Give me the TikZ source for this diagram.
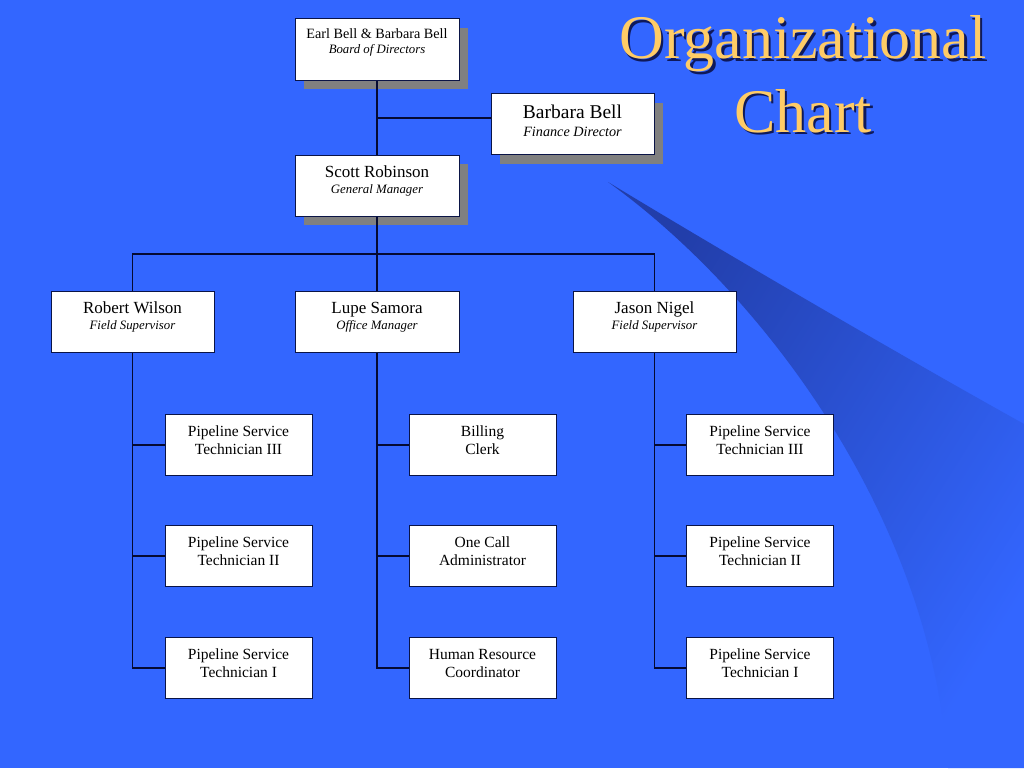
\documentclass[tikz,border=0pt]{standalone}
\usepackage{fontspec}
\setmainfont{Liberation Serif}
\usetikzlibrary{shadows}
\definecolor{bg}{RGB}{51,102,255}
\definecolor{swdark}{RGB}{34,62,170}
\definecolor{boxline}{RGB}{10,20,70}
\definecolor{connline}{RGB}{5,10,50}
\definecolor{shadowgray}{RGB}{128,128,128}
\definecolor{gold}{RGB}{255,204,102}
\definecolor{titleshadow}{RGB}{15,25,90}
\tikzset{
  orgbox/.style={draw=boxline, fill=white, line width=1pt, inner sep=0pt,
    minimum width=#1, minimum height=61pt},
  shadowed/.style={drop shadow={shadow xshift=9pt, shadow yshift=-9pt,
    fill=shadowgray, opacity=1}},
  conn/.style={draw=connline, line width=1.1pt},
  nametext/.style={anchor=base, inner sep=0pt, font=\fontsize{17}{20}\selectfont},
  roletext/.style={anchor=base, inner sep=0pt, font=\fontsize{12.8}{15}\selectfont\itshape},
  childtext/.style={anchor=base, inner sep=0pt, font=\fontsize{15.5}{18}\selectfont},
  titletext/.style={anchor=base, inner sep=0pt, font=\fontsize{62}{70}\selectfont}
}
\begin{document}
\begin{tikzpicture}[x=1pt,y=-1pt]
\fill[bg] (0,0) rectangle (1024,768);
\useasboundingbox (0,0) rectangle (1024,768);

% swoosh
\shade[top color=swdark, middle color=swdark!55!bg, bottom color=bg, shading angle=58]
  (608,182) .. controls (765,295) and (932,520) .. (948,768)
  -- (1024,768) -- (1024,424)
  .. controls (900,355) and (720,250) .. (608,182) -- cycle;

% title
\node[titletext, text=titleshadow] (tsh1) at (805.5,61.5) {Organizational};
\node[titletext, text=titleshadow] (tsh2) at (805.5,134.5) {Chart};
\node[titletext, text=gold] (t1) at (803,59) {Organizational};
\node[titletext, text=gold] (t2) at (803,132) {Chart};

% boxes
\node[orgbox=164pt, shadowed] (earl) at (377,49.5) {};
\node[orgbox=163pt, shadowed] (barb) at (572.5,124) {};
\node[orgbox=164pt, shadowed] (scott) at (377,185.5) {};
\node[orgbox=163pt] (robert) at (132.5,322) {};
\node[orgbox=164pt] (lupe) at (377,322) {};
\node[orgbox=163pt] (jason) at (654.5,322) {};

\node[orgbox=147pt] (l3) at (238.5,445) {};
\node[orgbox=147pt] (l2) at (238.5,556) {};
\node[orgbox=147pt] (l1) at (238.5,668) {};
\node[orgbox=147pt] (billing) at (482.5,445) {};
\node[orgbox=147pt] (onecall) at (482.5,556) {};
\node[orgbox=147pt] (hr) at (482.5,668) {};
\node[orgbox=147pt] (r3) at (760,445) {};
\node[orgbox=147pt] (r2) at (760,556) {};
\node[orgbox=147pt] (r1) at (760,668) {};

% texts
\node[anchor=base, inner sep=0pt, font=\fontsize{14.2}{16}\selectfont] (earlA) at (377,38) {Earl Bell \& Barbara Bell};
\node[roletext] (earlB) at (377,53) {Board of Directors};
\node[anchor=base, inner sep=0pt, font=\fontsize{19.5}{22}\selectfont] (barbA) at (572.5,118) {Barbara Bell};
\node[anchor=base, inner sep=0pt, font=\fontsize{14.2}{16}\selectfont\itshape] (barbB) at (572.5,136) {Finance Director};
\node[nametext] (scottA) at (377,177) {Scott Robinson};
\node[roletext] (scottB) at (377,193) {General Manager};
\node[nametext] (robA) at (132.5,313) {Robert Wilson};
\node[roletext] (robB) at (132.5,329) {Field Supervisor};
\node[nametext] (lupeA) at (377,313) {Lupe Samora};
\node[roletext] (lupeB) at (377,329) {Office Manager};
\node[nametext] (jasA) at (654.5,313) {Jason Nigel};
\node[roletext] (jasB) at (654.5,329) {Field Supervisor};

\node[childtext] (l3a) at (238.5,436) {Pipeline Service};
\node[childtext] (l3b) at (238.5,454) {Technician III};
\node[childtext] (l2a) at (238.5,547) {Pipeline Service};
\node[childtext] (l2b) at (238.5,565) {Technician II};
\node[childtext] (l1a) at (238.5,659) {Pipeline Service};
\node[childtext] (l1b) at (238.5,677) {Technician I};

\node[childtext] (bia) at (482.5,436) {Billing};
\node[childtext] (bib) at (482.5,454) {Clerk};
\node[childtext] (oca) at (482.5,547) {One Call};
\node[childtext] (ocb) at (482.5,565) {Administrator};
\node[childtext] (hra) at (482.5,659) {Human Resource};
\node[childtext] (hrb) at (482.5,677) {Coordinator};

\node[childtext] (r3a) at (760,436) {Pipeline Service};
\node[childtext] (r3b) at (760,454) {Technician III};
\node[childtext] (r2a) at (760,547) {Pipeline Service};
\node[childtext] (r2b) at (760,565) {Technician II};
\node[childtext] (r1a) at (760,659) {Pipeline Service};
\node[childtext] (r1b) at (760,677) {Technician I};

% connectors
\coordinate (bus) at (377,254);
\coordinate (fin) at ([yshift=6pt]barb.west);
\draw[conn] (earl.south) -- (scott.north);
\draw[conn] (earl.south |- fin) -- (fin);
\draw[conn] (scott.south) -- (lupe.north);
\draw[conn] (robert.north) |- (bus) -| (jason.north);

\draw[conn] (robert.south) |- (l3.west);
\draw[conn] (robert.south) |- (l2.west);
\draw[conn] (robert.south) |- (l1.west);
\draw[conn] (lupe.south) |- (billing.west);
\draw[conn] (lupe.south) |- (onecall.west);
\draw[conn] (lupe.south) |- (hr.west);
\draw[conn] (jason.south) |- (r3.west);
\draw[conn] (jason.south) |- (r2.west);
\draw[conn] (jason.south) |- (r1.west);
\end{tikzpicture}
\end{document}
